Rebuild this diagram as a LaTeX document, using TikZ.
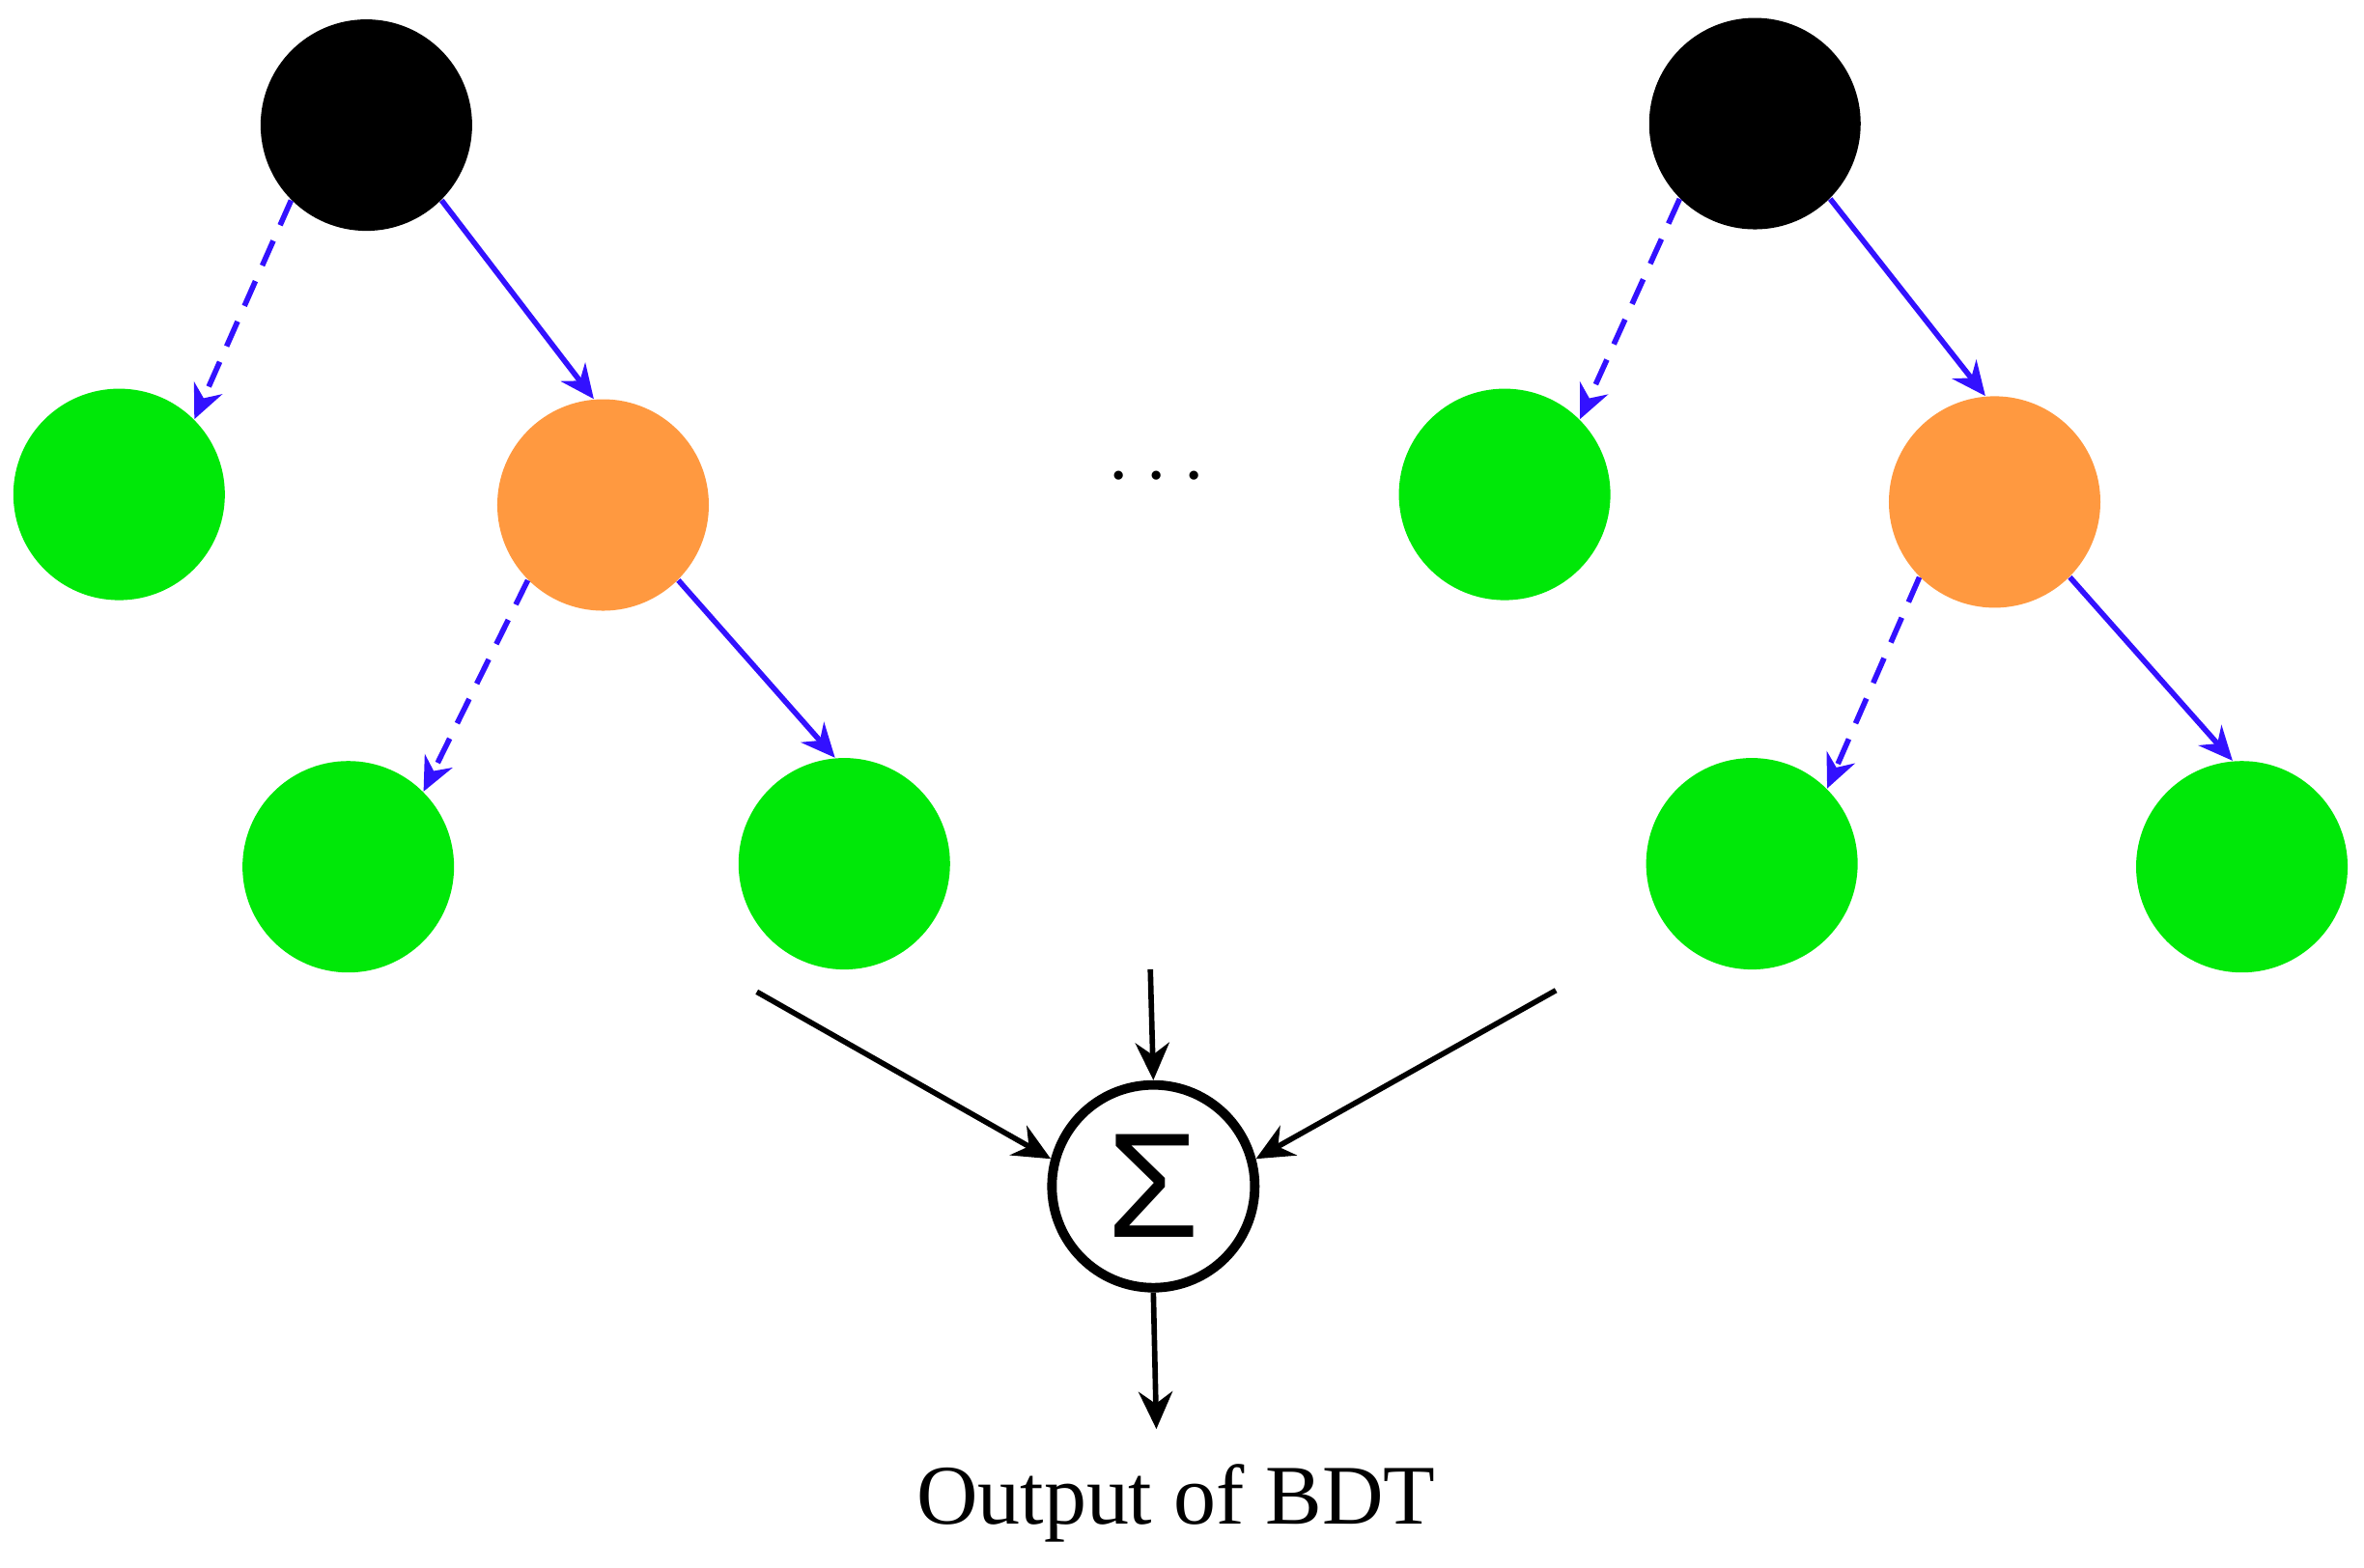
\documentclass[tikz,border=0pt]{standalone}
\usepackage{fontspec}
\setmainfont{Liberation Serif}
\newfontfamily\sansf{Liberation Sans}
\usetikzlibrary{arrows.meta}
\begin{document}
\begin{tikzpicture}[x=0.01561cm,y=-0.01561cm,
  nd/.style={circle,minimum size=2.19cm,inner sep=0,draw=none},
  blk/.style={nd,fill=black},
  grn/.style={nd,fill={rgb,255:red,0;green,232;blue,8}},
  org/.style={nd,fill={rgb,255:red,255;green,153;blue,64}},
  be/.style={draw={rgb,255:red,51;green,17;blue,255},line width=1.6pt,-{Stealth[length=10pt,width=9pt]}},
  bd/.style={be,dash pattern=on 8pt off 5pt},
  ke/.style={draw=black,line width=1.6pt,-{Stealth[length=11pt,width=10pt]}}]
\useasboundingbox (0,0) rectangle (1568,1040);
\node[blk] (b1) at (243,83) {};
\node[grn] (g1) at (79,328) {};
\node[org] (o1) at (400,335) {};
\node[grn] (g2) at (231,575) {};
\node[grn] (g3) at (560,573) {};
\node[blk] (b2) at (1164,82) {};
\node[grn] (g4) at (998,328) {};
\node[org] (o2) at (1323,333) {};
\node[grn] (g5) at (1162,573) {};
\node[grn] (g6) at (1487,575) {};
\draw[bd] (b1.-135) -- (g1.north east);
\draw[be] (b1.-45) -- (o1.95);
\draw[bd] (o1.-135) -- (g2.north east);
\draw[be] (o1.-45) -- (g3.95);
\draw[bd] (b2.-135) -- (g4.north east);
\draw[be] (b2.-45) -- (o2.95);
\draw[bd] (o2.-135) -- (g5.north east);
\draw[be] (o2.-45) -- (g6.95);
\node (dots) at (767,317) {\fontsize{40}{40}\selectfont$\cdots$};
\node[circle,draw,line width=2.8pt,minimum size=2.1cm,inner sep=0] (s) at (765,787) {\sansf\fontsize{44}{44}\selectfont Σ};
\coordinate (l) at (502,658);
\coordinate (r) at (1032,657);
\coordinate (t) at (763,643);
\coordinate (o) at (767,948);
\draw[ke] (l) -- (s.165);
\draw[ke] (r) -- (s.15);
\draw[ke] (t) -- (s.north);
\draw[ke] (s.south) -- (o);
\node (txt) at (780,997) {\fontsize{25}{30}\selectfont Output of BDT};
\end{tikzpicture}
\end{document}
